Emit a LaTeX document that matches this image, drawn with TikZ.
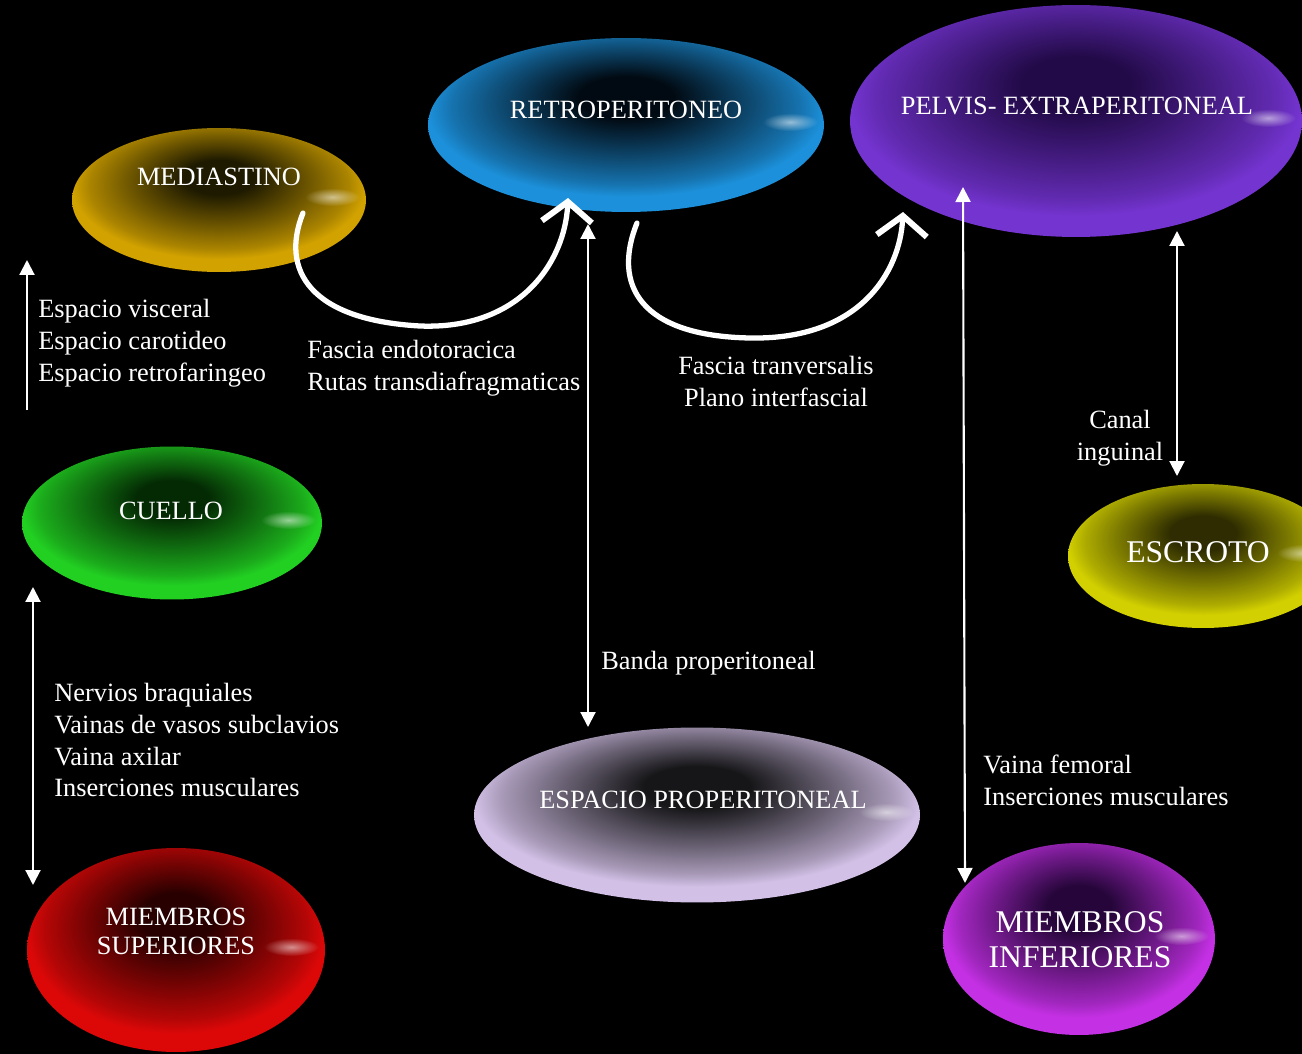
\documentclass[tikz,border=0pt]{standalone}
\usepackage{fontspec}
\setmainfont{Liberation Serif}
\usetikzlibrary{shapes.geometric,arrows.meta,positioning,fadings}

% Colores de las burbujas (borde / centro)
\definecolor{medOut}{HTML}{D2A200}
\definecolor{medIn}{HTML}{1E1A00}
\definecolor{retOut}{HTML}{1C90DA}
\definecolor{retIn}{HTML}{010A12}
\definecolor{pelOut}{HTML}{7434D0}
\definecolor{pelIn}{HTML}{220A48}
\definecolor{cueOut}{HTML}{22D022}
\definecolor{cueIn}{HTML}{042A04}
\definecolor{escOut}{HTML}{D2D000}
\definecolor{escIn}{HTML}{2E2C00}
\definecolor{proOut}{HTML}{D2C0E6}
\definecolor{proIn}{HTML}{161618}
\definecolor{supOut}{HTML}{DC0808}
\definecolor{supIn}{HTML}{280000}
\definecolor{infOut}{HTML}{C430E4}
\definecolor{infIn}{HTML}{26063A}

% Sombreado radial: zona oscura arriba, borde brillante
\colorlet{bubin}{black}
\colorlet{bubout}{white}
\pgfdeclareradialshading[bubin,bubout]{burbuja}{\pgfpoint{0bp}{9bp}}{%
  color(0bp)=(bubin); color(6bp)=(bubin); color(16bp)=(bubout!48!bubin);
  color(22bp)=(bubout!78!bubin); color(25bp)=(bubout); color(50bp)=(bubout)}
% Desvanecido para los reflejos
\tikzfading[name=reflejo, inner color=transparent!0, outer color=transparent!100]

\begin{document}
\begin{tikzpicture}[x=0.02cm, y=-0.02cm,
  burbuja/.style 2 args={ellipse, shade, shading=burbuja, inner sep=0pt,
    /utils/exec={\colorlet{bubin}{#1}\colorlet{bubout}{#2}}},
  brillo/.style={white, opacity=0.55, path fading=reflejo},
  rotulo/.style={text=white, font=\fontsize{15}{16.5}\selectfont, align=center},
  rotulog/.style={text=white, font=\fontsize{18}{20}\selectfont, align=center},
  texto/.style={text=white, font=\fontsize{15}{18.2}\selectfont, align=left,
    anchor=west, inner sep=0pt},
  >={Triangle[length=3mm,width=3mm]},
  flecha/.style={white, line width=1.2pt},
  curva/.style={white, line width=3pt, line cap=round,
    -{Straight Barb[length=4mm,width=10mm,line width=3.4pt]}}]
% Fondo negro (fija el tamaño de la figura)
\fill[black] (0,0) rectangle (1302,1054);
\useasboundingbox (0,0) rectangle (1302,1054);
\clip (0,0) rectangle (1302,1054);

% Burbujas: nombre / x / y / ancho / alto / centro / borde
\foreach \nom/\x/\y/\w/\h/\ci/\co in {
  med/219/200/5.88/2.88/medIn/medOut,
  retro/626/125/7.92/3.48/retIn/retOut,
  pelvis/1076/121/9.04/4.64/pelIn/pelOut,
  cuello/172/523/6.0/3.06/cueIn/cueOut,
  escroto/1203/556/5.4/2.88/escIn/escOut,
  prop/697/815/8.92/3.5/proIn/proOut,
  msup/176/950/5.96/4.08/supIn/supOut,
  minf/1079/939/5.44/3.84/infIn/infOut} {
  \node[burbuja={\ci}{\co}, minimum width=\w cm, minimum height=\h cm] (\nom) at (\x,\y) {};
  % reflejo pequeño a la derecha
  \fill[brillo] ([xshift=-0.68cm, yshift=0.06cm]\nom.east) ellipse (0.55cm and 0.18cm);
}

% Rotulos de las burbujas
\node[rotulo] (medtxt) at (219,177) {MEDIASTINO};
\node[rotulo] (retrotxt) at (626,110) {RETROPERITONEO};
\node[rotulo] (pelvistxt) at (1077,106) {PELVIS- EXTRAPERITONEAL};
\node[rotulo] (cuellotxt) at (171,511) {CUELLO};
\node[rotulog] (escrototxt) at (1198,552) {ESCROTO};
\node[rotulo] (proptxt) at (703,800) {ESPACIO PROPERITONEAL};
\node[rotulo] (msuptxt) at (176,931) {MIEMBROS\\SUPERIORES};
\node[rotulog] (minftxt) at (1080,940) {MIEMBROS\\INFERIORES};

% Extremos libres de las flechas rectas
\coordinate (cu1) at (27,410);   \coordinate (cu2) at (27,260);
\coordinate (br1) at (33,587);   \coordinate (br2) at (33,885);
\coordinate (rp1) at (588,224);  \coordinate (rp2) at (588,727);
\coordinate (pi1) at (963,187);  \coordinate (pi2) at (965,883);
\coordinate (ci1) at (1177,231); \coordinate (ci2) at (1177,476);

\draw[flecha, ->] (cu1) -- (cu2);
\draw[flecha, <->] (br1) -- (br2);
\draw[flecha, <->] (rp1) -- (rp2);
\draw[flecha, <->] (pi1) -- (pi2);
\draw[flecha, <->] (ci1) -- (ci2);

% Flechas curvas (a mano alzada)
\coordinate (mr1) at (303,213); \coordinate (mr2) at (568,198);
\coordinate (rp3) at (637,223); \coordinate (rp4) at (903,212);
\draw[curva] (mr1) .. controls (280,270) and (310,320) .. (420,326)
  .. controls (520,330) and (565,262) .. (mr2);
\draw[curva] (rp3) .. controls (612,285) and (640,336) .. (750,338)
  .. controls (860,340) and (900,272) .. (rp4);

% Textos de las vias
\node[texto] (visc) at (38,343) {Espacio visceral\\Espacio carotideo\\Espacio retrofaringeo};
\node[texto] (endo) at (307,368) {Fascia endotoracica\\Rutas transdiafragmaticas};
\node[texto, align=center, anchor=center] (trans) at (776,381) {Fascia tranversalis\\Plano interfascial};
\node[texto, align=center, anchor=center] (canal) at (1120,438) {Canal\\inguinal};
\node[texto] (banda) at (601,663) {Banda properitoneal};
\node[texto] (braq) at (54,740) {Nervios braquiales\\Vainas de vasos subclavios\\Vaina axilar\\Inserciones musculares};
\node[texto] (femo) at (983,780) {Vaina femoral\\Inserciones musculares};
\end{tikzpicture}
\end{document}
